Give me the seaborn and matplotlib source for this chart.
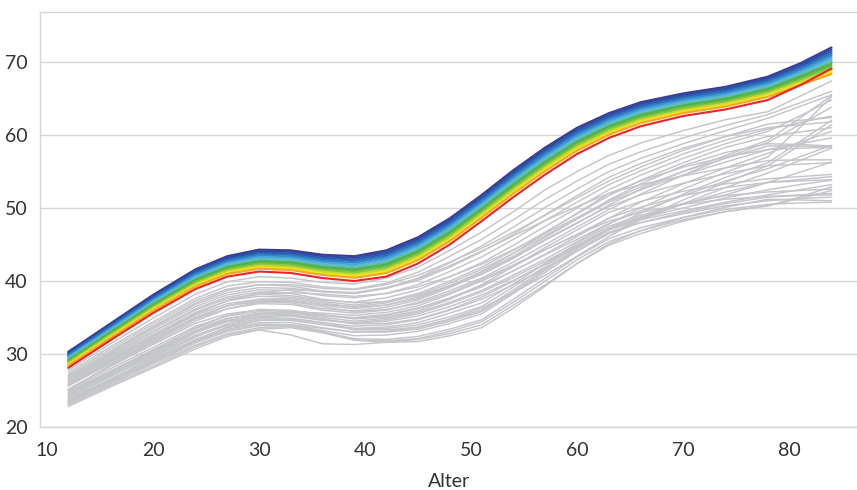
import seaborn as sns
import matplotlib.pyplot as plt
import pandas as pd

ages = [12, 16, 20, 24, 27, 30, 33, 36, 39, 42, 45, 48, 51, 54, 57, 60, 63, 66, 70, 74, 78, 81, 84]

# coloured reference curves, from the top (indigo) down to red
band_lines = [
    [30.30, 34.20, 38.10, 41.60, 43.40, 44.30, 44.20, 43.60, 43.40, 44.20, 46.00, 48.60, 51.80, 55.20, 58.30, 61.00, 63.00, 64.50, 65.70, 66.60, 68.00, 69.80, 72.00],
    [30.15, 34.05, 37.93, 41.42, 43.21, 44.10, 43.99, 43.39, 43.17, 43.96, 45.76, 48.36, 51.56, 54.95, 58.05, 60.76, 62.77, 64.28, 65.49, 66.39, 67.79, 69.57, 71.72],
    [30.01, 33.89, 37.76, 41.24, 43.02, 43.90, 43.78, 43.17, 42.94, 43.72, 45.52, 48.12, 51.32, 54.70, 57.80, 60.52, 62.54, 64.06, 65.28, 66.18, 67.57, 69.34, 71.44],
    [29.86, 33.74, 37.60, 41.06, 42.84, 43.70, 43.58, 42.96, 42.72, 43.48, 45.28, 47.88, 51.08, 54.46, 57.56, 60.28, 62.32, 63.84, 65.08, 65.98, 67.36, 69.11, 71.16],
    [29.71, 33.58, 37.43, 40.88, 42.65, 43.50, 43.37, 42.74, 42.49, 43.24, 45.04, 47.64, 50.84, 54.21, 57.31, 60.04, 62.09, 63.62, 64.87, 65.77, 67.14, 68.88, 70.88],
    [29.57, 33.43, 37.26, 40.70, 42.46, 43.30, 43.16, 42.53, 42.26, 42.99, 44.79, 47.39, 50.59, 53.96, 57.06, 59.79, 61.86, 63.40, 64.66, 65.56, 66.93, 68.65, 70.60],
    [29.42, 33.28, 37.09, 40.51, 42.27, 43.09, 42.95, 42.32, 42.03, 42.75, 44.55, 47.15, 50.35, 53.71, 56.81, 59.55, 61.63, 63.17, 64.45, 65.35, 66.72, 68.42, 70.32],
    [29.27, 33.12, 36.92, 40.33, 42.08, 42.89, 42.74, 42.10, 41.80, 42.51, 44.31, 46.91, 50.11, 53.46, 56.56, 59.31, 61.40, 62.95, 64.24, 65.14, 66.50, 68.19, 70.04],
    [29.12, 32.97, 36.76, 40.15, 41.90, 42.69, 42.54, 41.89, 41.58, 42.27, 44.07, 46.67, 49.87, 53.22, 56.32, 59.07, 61.18, 62.73, 64.04, 64.94, 66.29, 67.96, 69.76],
    [28.98, 32.81, 36.59, 39.97, 41.71, 42.49, 42.33, 41.67, 41.35, 42.03, 43.83, 46.43, 49.63, 52.97, 56.07, 58.83, 60.95, 62.51, 63.83, 64.73, 66.07, 67.73, 69.48],
    [28.83, 32.66, 36.42, 39.79, 41.52, 42.29, 42.12, 41.46, 41.12, 41.79, 43.59, 46.19, 49.39, 52.72, 55.82, 58.59, 60.72, 62.29, 63.62, 64.52, 65.86, 67.50, 69.20],
    [28.68, 32.51, 36.25, 39.61, 41.33, 42.09, 41.91, 41.25, 40.89, 41.55, 43.35, 45.95, 49.15, 52.47, 55.57, 58.35, 60.49, 62.07, 63.41, 64.31, 65.65, 67.27, 68.92],
    [28.54, 32.35, 36.08, 39.43, 41.14, 41.89, 41.70, 41.03, 40.66, 41.31, 43.11, 45.71, 48.91, 52.22, 55.32, 58.11, 60.26, 61.85, 63.20, 64.10, 65.43, 67.04, 68.64],
    [28.39, 32.20, 35.92, 39.25, 40.96, 41.69, 41.50, 40.82, 40.44, 41.07, 42.87, 45.47, 48.67, 51.98, 55.08, 57.87, 60.04, 61.63, 63.00, 63.90, 65.22, 66.81, 68.36],
    [28.10, 31.90, 35.60, 38.90, 40.60, 41.30, 41.10, 40.40, 40.00, 40.60, 42.40, 45.00, 48.20, 51.50, 54.60, 57.40, 59.60, 61.20, 62.60, 63.50, 64.80, 66.80, 69.10],
]
band_colors = ['#3d3a93', '#32479f', '#2a5aad', '#2b70bd', '#3388cc', '#45a3d9', '#5ab9d9',
               '#5fbf9a', '#4daf4a', '#62b946', '#8cc63f', '#c2d92f', '#f3e21b', '#f5a623', '#e8262a']

# individual curves (grey)
gray_lines = [
    [27.8, 31.4, 34.9, 38.2, 39.9, 40.6, 40.4, 39.8, 39.6, 40.4, 41.9, 44.2, 46.7, 49.5, 52.5, 55.0, 57.2, 58.9, 60.6, 62.1, 63.2, 65.3, 67.4],
    [27.5, 31.0, 34.4, 37.6, 39.3, 39.9, 39.8, 39.2, 38.9, 39.7, 41.2, 43.4, 45.7, 48.4, 51.2, 53.7, 56.0, 57.7, 59.6, 61.3, 62.8, 64.4, 66.0],
    [27.2, 30.7, 34.1, 37.3, 38.9, 39.5, 39.3, 38.6, 38.3, 39.0, 40.4, 42.5, 44.8, 47.4, 50.1, 52.6, 55.0, 56.8, 58.8, 60.6, 62.3, 63.9, 65.5],
    [27.0, 30.3, 33.6, 36.8, 38.4, 39.1, 39.0, 38.5, 38.3, 39.0, 40.1, 41.9, 44.0, 46.4, 49.1, 51.7, 54.2, 56.1, 58.2, 59.8, 61.0, 61.4, 61.8],
    [26.7, 30.1, 33.4, 36.5, 38.1, 38.8, 38.7, 38.0, 37.7, 38.3, 39.5, 41.3, 43.3, 45.7, 48.3, 50.8, 53.2, 55.1, 57.4, 59.3, 60.8, 61.7, 62.6],
    [26.5, 29.8, 33.0, 36.0, 37.6, 38.2, 38.0, 37.4, 37.1, 37.7, 38.8, 40.6, 42.5, 44.9, 47.5, 50.0, 52.5, 54.5, 56.8, 58.8, 60.5, 62.6, 64.8],
    [26.3, 29.6, 32.7, 35.7, 37.3, 37.9, 37.8, 37.2, 36.7, 37.2, 38.3, 40.0, 41.9, 44.2, 46.7, 49.2, 51.7, 53.8, 56.2, 58.3, 59.8, 60.4, 61.0],
    [26.0, 29.2, 32.3, 35.3, 36.9, 37.5, 37.4, 36.7, 36.2, 36.7, 37.8, 39.4, 41.2, 43.4, 46.0, 48.5, 51.1, 53.3, 55.8, 57.6, 58.8, 58.7, 58.5],
    [25.8, 29.0, 32.1, 35.0, 36.6, 37.3, 37.3, 36.8, 36.5, 37.0, 38.1, 39.7, 41.6, 43.8, 46.2, 48.5, 50.8, 52.5, 54.5, 56.3, 58.0, 58.8, 59.6],
    [25.6, 28.7, 31.8, 34.8, 36.2, 36.9, 36.8, 36.0, 35.6, 36.0, 37.1, 38.7, 40.4, 42.6, 45.0, 47.4, 49.8, 51.9, 54.5, 56.9, 59.0, 61.4, 63.8],
    [26.9, 30.4, 33.8, 37.0, 38.7, 39.5, 39.5, 39.0, 38.8, 39.5, 40.8, 42.6, 44.5, 46.7, 49.0, 51.4, 53.7, 55.6, 57.9, 59.8, 61.5, 62.0, 62.4],
    [26.2, 29.4, 32.5, 35.5, 37.3, 38.2, 38.4, 38.2, 37.9, 38.3, 39.2, 40.6, 42.3, 44.3, 46.5, 48.7, 51.0, 52.9, 55.0, 56.8, 58.5, 58.5, 58.4],
    [25.9, 29.2, 32.4, 35.5, 37.3, 38.4, 38.8, 38.6, 38.4, 39.1, 40.3, 42.1, 44.1, 46.2, 48.3, 50.2, 52.0, 53.2, 54.4, 55.5, 56.5, 56.6, 56.6],
    [26.6, 29.9, 33.1, 36.2, 37.8, 38.5, 38.3, 37.5, 37.0, 37.2, 38.0, 39.3, 40.9, 43.1, 45.6, 47.9, 50.4, 52.6, 55.0, 57.2, 59.3, 62.3, 65.4],
    [25.7, 28.9, 32.0, 35.0, 36.6, 37.2, 37.0, 36.2, 35.9, 36.4, 37.4, 39.1, 41.0, 43.2, 45.7, 48.0, 50.2, 51.8, 53.4, 54.7, 55.8, 56.0, 56.2],
    [25.2, 28.3, 31.3, 34.2, 35.5, 36.0, 35.8, 35.2, 34.9, 35.3, 36.2, 37.6, 39.2, 41.4, 43.7, 46.1, 48.6, 50.8, 53.3, 55.5, 57.5, 59.0, 60.5],
    [25.0, 28.0, 30.9, 33.8, 35.2, 35.8, 35.6, 35.0, 34.5, 34.9, 35.7, 37.1, 38.7, 40.8, 43.0, 45.4, 47.8, 50.0, 52.6, 54.9, 57.0, 61.0, 65.2],
    [24.8, 27.7, 30.6, 33.5, 34.9, 35.5, 35.4, 34.7, 34.2, 34.5, 35.2, 36.5, 38.1, 40.1, 42.3, 44.7, 47.2, 49.3, 51.9, 54.2, 56.2, 59.1, 62.0],
    [24.6, 27.5, 30.4, 33.2, 34.6, 35.2, 35.2, 34.6, 34.3, 34.7, 35.5, 36.9, 38.5, 40.5, 42.7, 44.9, 47.1, 48.7, 50.5, 52.2, 53.5, 54.9, 56.3],
    [24.4, 27.3, 30.2, 33.0, 34.4, 35.0, 34.9, 34.3, 33.8, 34.0, 34.7, 36.0, 37.5, 39.5, 41.7, 44.1, 46.5, 48.4, 50.6, 52.8, 54.8, 56.5, 58.2],
    [24.2, 27.1, 29.9, 32.6, 34.1, 34.8, 34.8, 34.2, 33.5, 33.7, 34.3, 35.6, 37.0, 39.6, 42.4, 45.2, 47.5, 49.0, 50.6, 51.8, 53.5, 53.9, 54.3],
    [24.0, 26.9, 29.7, 32.4, 33.9, 34.6, 34.6, 34.0, 33.4, 33.5, 34.0, 35.1, 36.5, 39.2, 42.0, 44.9, 47.2, 48.6, 50.0, 51.4, 52.5, 53.2, 53.8],
    [23.8, 26.6, 29.3, 32.0, 33.6, 34.3, 34.3, 33.6, 33.0, 33.1, 33.6, 34.7, 36.0, 38.8, 41.7, 44.6, 47.0, 48.4, 49.6, 50.8, 51.8, 52.5, 53.2],
    [23.6, 26.4, 29.1, 31.8, 33.4, 34.1, 34.0, 33.2, 32.5, 32.6, 33.1, 34.2, 35.5, 38.3, 41.2, 44.1, 46.5, 48.0, 49.4, 50.6, 51.5, 51.7, 51.8],
    [23.4, 26.1, 28.8, 31.5, 33.1, 33.9, 34.0, 33.5, 33.0, 33.0, 33.4, 34.5, 35.8, 38.5, 41.5, 44.4, 46.7, 48.0, 49.2, 50.3, 51.0, 51.3, 51.5],
    [23.2, 25.9, 28.6, 31.2, 32.8, 33.6, 33.8, 33.0, 32.1, 32.0, 32.4, 33.4, 34.7, 37.5, 40.4, 43.3, 45.8, 47.3, 48.7, 49.8, 50.5, 50.7, 50.8],
    [23.0, 25.7, 28.3, 31.0, 32.6, 33.4, 33.6, 32.9, 31.9, 31.8, 32.1, 33.1, 34.4, 37.1, 40.0, 42.9, 45.4, 46.9, 48.4, 49.5, 50.3, 51.5, 52.9],
    [22.8, 25.5, 28.1, 30.7, 32.4, 33.3, 32.6, 31.4, 31.3, 31.6, 32.0, 32.8, 34.0, 36.7, 39.5, 42.4, 44.9, 46.5, 48.2, 49.5, 50.3, 51.3, 52.4],
    [24.7, 27.6, 30.5, 33.6, 35.3, 36.1, 36.0, 35.4, 34.8, 35.1, 35.9, 37.5, 39.5, 42.0, 44.6, 47.0, 49.4, 50.9, 52.3, 53.3, 54.0, 54.3, 54.6],
    [24.1, 27.1, 30.0, 32.9, 34.5, 35.4, 35.6, 35.3, 35.0, 35.4, 36.3, 37.7, 39.4, 41.4, 43.6, 45.7, 47.9, 49.6, 51.7, 53.7, 55.4, 57.0, 58.6],
    [23.3, 26.2, 29.0, 31.9, 33.7, 34.6, 34.8, 34.3, 33.3, 33.3, 33.7, 34.8, 36.3, 38.4, 40.8, 43.4, 46.1, 48.4, 51.1, 53.5, 55.8, 58.6, 61.4],
    [23.7, 26.6, 29.5, 32.3, 34.1, 35.1, 35.3, 34.8, 34.1, 34.2, 34.8, 36.1, 37.8, 40.0, 42.4, 44.8, 47.2, 48.8, 50.6, 51.7, 52.2, 52.4, 52.6],
    [25.1, 28.4, 31.5, 34.5, 36.2, 37.1, 37.2, 36.5, 35.8, 36.1, 36.9, 38.4, 40.2, 42.2, 44.3, 46.3, 48.2, 49.4, 50.5, 51.2, 51.6, 51.8, 52.0],
    [25.0, 28.5, 31.7, 34.8, 36.6, 37.5, 37.6, 37.0, 36.4, 36.7, 37.6, 39.3, 41.3, 43.8, 46.6, 49.3, 52.0, 53.7, 55.6, 57.0, 58.0, 58.2, 58.3],
    [24.5, 27.4, 30.3, 33.2, 34.8, 35.6, 35.8, 35.6, 35.3, 35.7, 36.6, 38.2, 40.0, 42.0, 44.3, 46.4, 48.6, 50.1, 51.7, 52.8, 53.5, 53.7, 53.9],
    [23.5, 26.3, 29.0, 31.7, 33.2, 33.9, 33.8, 33.0, 31.9, 31.6, 31.7, 32.5, 33.6, 36.3, 39.3, 42.4, 45.1, 46.9, 48.7, 50.1, 51.2, 51.1, 51.0],
]


def to_long(lines, prefix):
    rows = []
    for i, vals in enumerate(lines):
        for a, v in zip(ages, vals):
            rows.append((f'{prefix}{i:02d}', a, v))
    return pd.DataFrame(rows, columns=['line', 'Alter', 'value'])


gray_df = to_long(gray_lines, 'g')
band_df = to_long(band_lines, 'c')

sns.set_theme(style='white')
plt.rcParams['font.family'] = ['Lato', 'DejaVu Sans']

fig = plt.figure(figsize=(8.57, 4.90), dpi=100)
ax = fig.add_axes([40 / 857, 63 / 490, 817 / 857, 415 / 490])

sns.lineplot(data=gray_df, x='Alter', y='value', units='line', estimator=None,
             color='#c4c5c9', lw=1.05, ax=ax)
sns.lineplot(data=band_df, x='Alter', y='value', hue='line', palette=band_colors,
             estimator=None, lw=1.5, legend=False, ax=ax)

ax.set_xlim(9.34, 86.4)
ax.set_ylim(20, 76.85)
ax.set_xticks(range(10, 90, 10))
ax.set_yticks(range(20, 80, 10))
ax.grid(axis='y', color='#d6d6d6', lw=1)
ax.set_axisbelow(True)
ax.tick_params(length=0, labelsize=14, colors='#333333')
ax.tick_params(axis='x', pad=11)
ax.tick_params(axis='y', pad=9)
ax.set_xlabel('Alter', fontsize=14, color='#333333', labelpad=10)
ax.set_ylabel('')
for side in ['left', 'top', 'bottom']:
    ax.spines[side].set_color('#d6d6d6')
    ax.spines[side].set_linewidth(1)
ax.spines['right'].set_visible(False)

fig.savefig('out.png', dpi=100)
